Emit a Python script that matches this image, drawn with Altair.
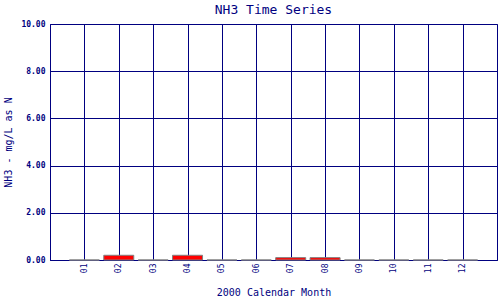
import altair as alt
import pandas as pd

months = [1, 2, 3, 4, 5, 6, 7, 8, 9, 10, 11, 12]
nh3 = [0.0, 0.2, 0.0, 0.2, 0.0, 0.0, 0.1, 0.1, 0.0, 0.0, 0.0, 0.0]
month_labels = ["01", "02", "03", "04", "05", "06", "07", "08", "09", "10", "11", "12"]

df = pd.DataFrame({"month": months, "nh3": nh3, "label": month_labels})

NAVY = "#000080"
MONO = "DejaVu Sans Mono"

label_expr = "datum.value < 10 ? '0' + datum.value : '' + datum.value"

chart = alt.Chart(df).mark_bar(
    size=30, color="#ff0000", stroke="#808080", strokeWidth=1
).encode(
    x=alt.X(
        "month:Q",
        scale=alt.Scale(domain=[0, 13], nice=False, zero=False, padding=0),
        axis=alt.Axis(
            values=months,
            labelExpr=label_expr,
            labelAngle=270,
            labelAlign="right",
            labelBaseline="middle",
            labelFont=MONO,
            labelFontSize=8,
            labelColor=NAVY,
            labelPadding=3,
            ticks=False,
            domainColor=NAVY,
            grid=True,
            gridColor=NAVY,
            gridOpacity=1,
            gridWidth=1,
            title="2000 Calendar Month",
            titleFont=MONO,
            titleFontSize=10,
            titleFontWeight="normal",
            titleColor=NAVY,
            titlePadding=15,
        ),
    ),
    y=alt.Y(
        "nh3:Q",
        scale=alt.Scale(domain=[0, 10], nice=False, padding=0),
        axis=alt.Axis(
            values=[0, 2, 4, 6, 8, 10],
            format=".2f",
            labelFont=MONO,
            labelFontSize=8,
            labelFontWeight="bold",
            labelColor=NAVY,
            labelPadding=5,
            ticks=False,
            domainColor=NAVY,
            grid=True,
            gridColor=NAVY,
            gridOpacity=1,
            gridWidth=1,
            title="NH3 - mg/L as N",
            titleFont=MONO,
            titleFontSize=10,
            titleFontWeight="normal",
            titleColor=NAVY,
            titlePadding=7,
        ),
    ),
).properties(
    width=447,
    height=236,
    title=alt.TitleParams(
        "NH3 Time Series", font=MONO, fontSize=13, fontWeight="normal",
        color=NAVY, anchor="middle", offset=3,
    ),
    autosize=alt.AutoSizeParams(type="none"),
    padding={"left": 50, "top": 24, "right": 3, "bottom": 40},
    background="white",
).configure_view(
    stroke=NAVY, strokeWidth=1
)

chart.save("out.html", embed_options={"renderer": "svg", "actions": False})
